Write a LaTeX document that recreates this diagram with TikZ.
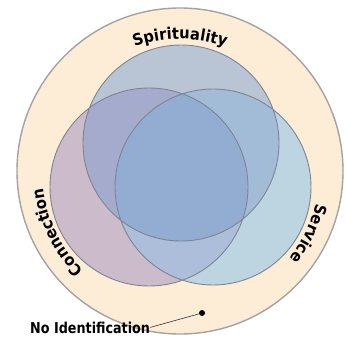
\documentclass[tikz,border=0pt]{standalone}
\usepackage{fontspec}
\setmainfont{DejaVu Sans}
\newfontfamily\narrowfont[FakeStretch=0.85]{DejaVu Sans}
\newfontfamily\arcfamily[FakeStretch=0.92]{DejaVu Sans}
\usetikzlibrary{decorations.text}
\definecolor{ring}{HTML}{FDECD6}
\definecolor{rimgray}{HTML}{A3A3A6}
\definecolor{setgray}{HTML}{7E8592}
\definecolor{spionly}{HTML}{B9C5D4}
\definecolor{cononly}{HTML}{CCBBCB}
\definecolor{seronly}{HTML}{BDD5E0}
\definecolor{spicon}{HTML}{A5ABCC}
\definecolor{spiser}{HTML}{A2BCD8}
\definecolor{conser}{HTML}{ADBEDA}
\definecolor{allthree}{HTML}{93ACD2}
\newcommand{\arcfont}{\fontsize{16}{19}\selectfont\arcfamily\bfseries}
\begin{document}
\begin{tikzpicture}[x=1pt,y=1pt]
    \tikzstyle{rim}=[draw=rimgray, line width=1.4pt]
    \tikzstyle{setline}=[draw=setgray, line width=0.9pt]
    \tikzstyle{curved}=[decorate, decoration={text along path, text align=center}]
    \tikzstyle{vertex}=[circle, fill=black, minimum size=6pt, inner sep=0pt]
    \useasboundingbox (-180,-166) rectangle (167,171);
    \filldraw[fill=ring, rim] (0,0) circle (163);
    \fill[spionly] (1,28) circle (98);
    \fill[cononly] (-31,-16) circle (99);
    \fill[seronly] (33,-16) circle (98);
    \begin{scope}
      \clip (1,28) circle (98);
      \fill[spicon] (-31,-16) circle (99);
      \fill[spiser] (33,-16) circle (98);
    \end{scope}
    \begin{scope}
      \clip (-31,-16) circle (99);
      \fill[conser] (33,-16) circle (98);
      \clip (1,28) circle (98);
      \fill[allthree] (33,-16) circle (98);
    \end{scope}
    \draw[setline] (1,28) circle (98) (-31,-16) circle (99) (33,-16) circle (98);
    \path[curved, decoration={text={|\arcfont|Spirituality}}] (125:132) arc[start angle=125, end angle=55, radius=132];
    \path[curved, decoration={text={|\arcfont|Connection}}] (240:138) arc[start angle=240, end angle=173, radius=138];
    \path[curved, decoration={text={|\arcfont|Service}}] (10:140) arc[start angle=10, end angle=-62, radius=140];
    \node[anchor=base west, inner sep=0pt] (noId) at (-150,-162) {\fontsize{15}{18}\selectfont\narrowfont\bfseries No Identification};
    \node[vertex] (idDot) at (22,-142) {};
    \draw[black!80, line width=0.6pt] (noId.east) -- (idDot);
\end{tikzpicture}
\end{document}
